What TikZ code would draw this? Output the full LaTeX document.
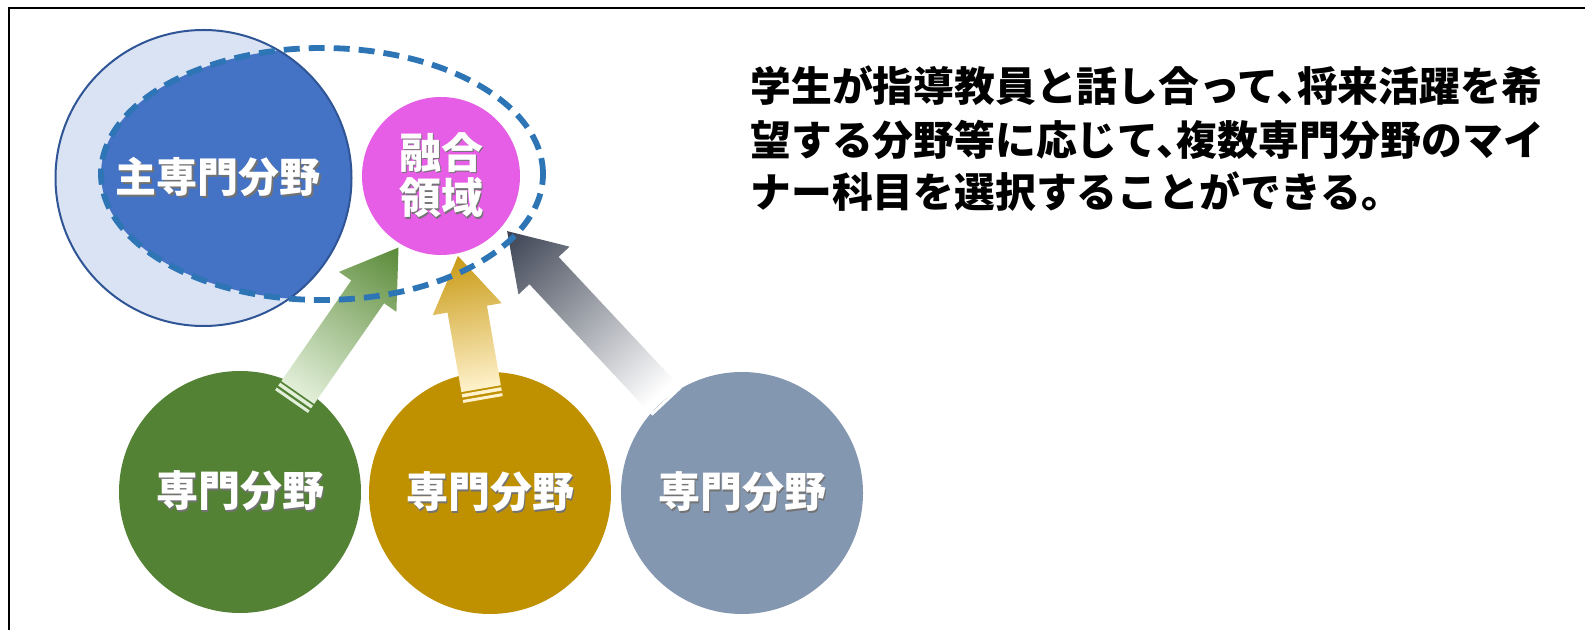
\documentclass[tikz,border=0pt]{standalone}
\usepackage{fontspec}
\newfontfamily\jp{Noto Sans CJK JP}
\newfontfamily\jpdesc{Noto Sans CJK JP}[RawFeature=+halt]
\usetikzlibrary{shapes.geometric}
\definecolor{lightblue}{HTML}{DAE3F3}
\definecolor{mainborder}{HTML}{2F5597}
\definecolor{darkblue}{HTML}{4472C4}
\definecolor{dashblue}{HTML}{2E75B6}
\definecolor{fusion}{HTML}{E65EE6}
\definecolor{fgreen}{HTML}{548235}
\definecolor{fgold}{HTML}{BF9000}
\definecolor{fgrey}{HTML}{8497B0}
\definecolor{agreenhead}{HTML}{5A8A38}
\definecolor{agreentail}{HTML}{E2EFD9}
\definecolor{agoldhead}{HTML}{C99A15}
\definecolor{agoldmid}{HTML}{FAD45E}
\definecolor{agoldtail}{HTML}{FFF2CC}
\definecolor{agreyhead}{HTML}{3B4252}
\definecolor{agreymid}{HTML}{A9ABB1}
\newcommand\shtx[1]{\makebox[0pt][l]{\hspace{0.8pt}\raisebox{-0.8pt}{\color{black!55}#1}}#1}
\newcommand\blockarrow[3]{% length, tail colour, head colour
  \fill[#2] (0,-20) rectangle (3,20);
  \fill[#2] (5.5,-20) rectangle (9,20);
  \shade[left color=#2,right color=#3]
    (11,-20) -- (#1-54,-20) -- (#1-54,-35) -- (#1,0) -- (#1-54,35) -- (#1-54,20) -- (11,20) -- cycle;
}
\tikzset{
  lbl/.style={text=white, font=\jp\bfseries\fontsize{21pt}{23pt}\selectfont, inner sep=0pt},
  field/.style={circle, inner sep=0pt, minimum size=121pt, lbl},
  desc/.style={anchor=west, inner sep=0pt, font=\jpdesc\bfseries\fontsize{20.4pt}{22pt}\selectfont},
}
\begin{document}
\begin{tikzpicture}[x=0.5pt,y=-0.5pt]
\useasboundingbox (0,0) rectangle (1585,630);
\fill[white] (0,0) rectangle (1585,630);
\draw[line width=1pt] (9,630) -- (9,8) -- (1585,8);

% main field circle
\node[circle, fill=lightblue, inner sep=0pt, minimum size=148pt] (main) at (203.5,178) {};
\begin{scope}
  \clip (322,174) ellipse [x radius=221, y radius=126];
  \fill[darkblue] (main.center) circle [radius=148];
\end{scope}
\draw[mainborder, line width=1pt] (main.center) circle [radius=148];

% fusion circle
\node[circle, fill=fusion, inner sep=0pt, minimum size=79pt] (fusion) at (441,176) {};
\node[lbl, align=center, font=\jp\bfseries\fontsize{21pt}{22.75pt}\selectfont] (fusiontxt) at (fusion.center) {\shtx{融合}\\\shtx{領域}};

% bottom fields
\node[field, fill=fgreen] (f1) at (240,492) {\shtx{専門分野}};
\node[field, fill=fgold] (f2) at (490,493) {\shtx{専門分野}};
\node[field, fill=fgrey] (f3) at (742,493) {\shtx{専門分野}};

% arrows
\begin{scope}[transform canvas={shift={(291.5,401.5)}, rotate=55.2}]
  \blockarrow{187.5}{agreentail}{agreenhead}
\end{scope}
\begin{scope}[transform canvas={shift={(483,399.5)}, rotate=99.9}]
  \fill[agoldtail] (0,-20) rectangle (3,20);
  \fill[agoldtail] (5.5,-20) rectangle (9,20);
  \shade[left color=agoldtail, middle color=agoldmid, right color=agoldhead]
    (11,-20) -- (91.7,-20) -- (91.7,-35) -- (145.7,0) -- (91.7,35) -- (91.7,20) -- (11,20) -- cycle;
\end{scope}
\begin{scope}[transform canvas={shift={(667,402)}, rotate=133.1}]
  \fill[white] (0,-20) rectangle (3,20);
  \fill[white] (5.5,-20) rectangle (9,20);
  \shade[left color=white, middle color=agreymid, right color=agreyhead]
    (11,-20) -- (180,-20) -- (180,-35) -- (234,0) -- (180,35) -- (180,20) -- (11,20) -- cycle;
\end{scope}

% dashed fusion zone
\node[ellipse, draw=dashblue, line width=2.9pt, dash pattern=on 8pt off 4.5pt, inner sep=0pt,
      minimum width=221pt, minimum height=126pt] (zone) at (322,174) {};

\node[lbl, font=\jp\bfseries\fontsize{20.5pt}{22pt}\selectfont] (maintxt) at (218,178) {\shtx{主専門分野}};

% description
\node[desc] (d1) at (750,86) {学生が指導教員と話し合って、将来活躍を希};
\node[desc] (d2) at (750,139.5) {望する分野等に応じて、複数専門分野のマイ};
\node[desc] (d3) at (750,192) {ナー科目を選択することができる。};
\end{tikzpicture}
\end{document}
